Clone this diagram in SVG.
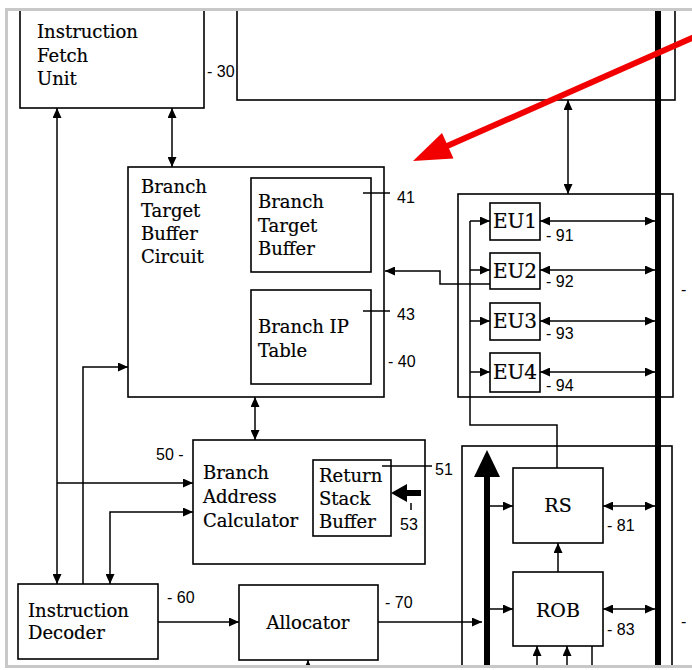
<svg xmlns="http://www.w3.org/2000/svg" width="692" height="670" viewBox="0 0 692 670">
<style>
.box{fill:none;stroke:#000;stroke-width:1.6}
.ln{fill:none;stroke:#000;stroke-width:1.5}
.t{font-family:"DejaVu Serif","Liberation Serif",serif;font-size:18px;fill:#000;stroke:#000;stroke-width:0.2}
.eu{font-family:"DejaVu Serif","Liberation Serif",serif;font-size:20px;fill:#000;stroke:#000;stroke-width:0.2}
.big{font-family:"DejaVu Serif","Liberation Serif",serif;font-size:19px;fill:#000;stroke:#000;stroke-width:0.2}
.n{font-family:"Liberation Sans","DejaVu Sans",sans-serif;font-size:16px;fill:#000}
</style>
<defs>
<marker id="ah" markerUnits="userSpaceOnUse" markerWidth="10" markerHeight="9" refX="10" refY="4.5" orient="auto-start-reverse">
<path d="M0,0 L10,4.5 L0,9 z" fill="#000"/>
</marker>
<clipPath id="frame"><rect x="8" y="11" width="684" height="655"/></clipPath>
</defs>
<rect x="0" y="0" width="692" height="670" fill="#fff"/>
<g clip-path="url(#frame)">
<g id="bus"><line x1="658" y1="0" x2="658" y2="670" stroke="#000" stroke-width="6"/></g>
<g id="ifu">
<rect class="box" x="20" y="-5" width="184" height="113"/>
<text class="t" x="37" y="38">Instruction</text>
<text class="t" x="37" y="62">Fetch</text>
<text class="t" x="37" y="85">Unit</text>
<text class="n" x="207" y="77">- 30</text>
</g>
<g id="topbox"><rect class="box" x="237" y="-5" width="438" height="105"/></g>
<g id="btbc">
<rect class="box" x="128" y="167" width="256" height="230"/>
<text class="t" x="141" y="193">Branch</text>
<text class="t" x="141" y="217">Target</text>
<text class="t" x="141" y="240">Buffer</text>
<text class="t" x="141" y="263">Circuit</text>
<text class="n" x="388" y="367">- 40</text>
</g>
<g id="btb">
<rect class="box" x="251" y="178" width="120" height="94"/>
<text class="t" x="258" y="208">Branch</text>
<text class="t" x="258" y="232">Target</text>
<text class="t" x="258" y="255">Buffer</text>
<line class="ln" x1="363" y1="193" x2="390" y2="193"/>
<text class="n" x="397" y="203">41</text>
</g>
<g id="bip">
<rect class="box" x="251" y="290" width="120" height="94"/>
<text class="t" x="258" y="333">Branch IP</text>
<text class="t" x="258" y="357">Table</text>
<line class="ln" x1="363" y1="311" x2="390" y2="311"/>
<text class="n" x="397" y="320">43</text>
</g>
<g id="eugroup"><rect class="box" x="458" y="194" width="215" height="203"/>
<text class="n" x="681" y="295">-</text></g>
<g id="eu1"><rect class="box" x="490" y="203" width="50" height="37"/><text class="eu" x="515" y="228" text-anchor="middle">EU1</text><text class="n" x="546" y="241">- 91</text></g>
<g id="eu2"><rect class="box" x="490" y="253" width="50" height="36"/><text class="eu" x="515" y="278" text-anchor="middle">EU2</text><text class="n" x="546" y="287">- 92</text></g>
<g id="eu3"><rect class="box" x="490" y="303" width="50" height="37"/><text class="eu" x="515" y="328" text-anchor="middle">EU3</text><text class="n" x="546" y="339">- 93</text></g>
<g id="eu4"><rect class="box" x="490" y="353" width="50" height="39"/><text class="eu" x="515" y="379" text-anchor="middle">EU4</text><text class="n" x="546" y="391">- 94</text></g>
<g id="bac">
<rect class="box" x="193" y="440" width="232" height="124"/>
<text class="t" x="203" y="479">Branch</text>
<text class="t" x="203" y="503">Address</text>
<text class="t" x="203" y="527">Calculator</text>
<text class="n" x="156" y="460">50 -</text>
</g>
<g id="rsb">
<rect class="box" x="313" y="460" width="78" height="76"/>
<text class="t" x="319" y="482">Return</text>
<text class="t" x="319" y="505">Stack</text>
<text class="t" x="319" y="528">Buffer</text>
<line class="ln" x1="382" y1="466" x2="432" y2="466"/>
<text class="n" x="435" y="475">51</text>
<polygon points="391,493 407,484 407,490 421,490 421,496 407,496 407,502" fill="#000"/>
<line class="ln" x1="411" y1="503" x2="411" y2="510"/>
<text class="n" x="400" y="530">53</text>
</g>
<g id="decoder">
<rect class="box" x="18" y="584" width="140" height="75"/>
<text class="t" x="28" y="617">Instruction</text>
<text class="t" x="28" y="639">Decoder</text>
<text class="n" x="167" y="603">- 60</text>
</g>
<g id="allocator">
<rect class="box" x="239" y="585" width="139" height="75"/>
<text class="t" x="308" y="629" text-anchor="middle">Allocator</text>
<text class="n" x="385" y="608">- 70</text>
</g>
<g id="lowergroup"><rect class="box" x="462" y="446" width="210" height="250"/>
<text class="n" x="681" y="627">-</text>
<rect x="484" y="476" width="6" height="200" fill="#000"/>
<polygon points="487,450 500,477 474,477" fill="#000"/>
</g>
<g id="rs"><rect class="box" x="513" y="468" width="90" height="75"/><text class="big" x="558" y="512" text-anchor="middle">RS</text><text class="n" x="607" y="531">- 81</text></g>
<g id="rob"><rect class="box" x="513" y="572" width="90" height="74"/><text class="big" x="558" y="617" text-anchor="middle">ROB</text><text class="n" x="607" y="635">- 83</text></g>
<g id="connectors">
<line class="ln" x1="172" y1="108" x2="172" y2="167" marker-start="url(#ah)" marker-end="url(#ah)"/>
<line class="ln" x1="568" y1="100" x2="568" y2="194" marker-start="url(#ah)" marker-end="url(#ah)"/>
<line class="ln" x1="540" y1="221" x2="655" y2="221" marker-start="url(#ah)" marker-end="url(#ah)"/>
<line class="ln" x1="540" y1="270" x2="655" y2="270" marker-start="url(#ah)" marker-end="url(#ah)"/>
<line class="ln" x1="540" y1="321" x2="655" y2="321" marker-start="url(#ah)" marker-end="url(#ah)"/>
<line class="ln" x1="540" y1="372" x2="655" y2="372" marker-start="url(#ah)" marker-end="url(#ah)"/>
<path class="ln" d="M470,221 L470,425 L557,425 L557,468"/>
<line class="ln" x1="470" y1="221" x2="490" y2="221" marker-end="url(#ah)"/>
<line class="ln" x1="470" y1="270" x2="490" y2="270" marker-end="url(#ah)"/>
<line class="ln" x1="470" y1="321" x2="490" y2="321" marker-end="url(#ah)"/>
<line class="ln" x1="470" y1="372" x2="490" y2="372" marker-end="url(#ah)"/>
<path class="ln" d="M490,284 L440,284 L440,271 L385,271" marker-end="url(#ah)"/>
<line class="ln" x1="255" y1="397" x2="255" y2="440" marker-start="url(#ah)" marker-end="url(#ah)"/>
<line class="ln" x1="57" y1="108" x2="57" y2="584" marker-start="url(#ah)" marker-end="url(#ah)"/>
<line class="ln" x1="57" y1="483" x2="193" y2="483" marker-end="url(#ah)"/>
<path class="ln" d="M83,584 L83,367 L128,367" marker-end="url(#ah)"/>
<path class="ln" d="M110,584 L110,512 L193,512" marker-start="url(#ah)" marker-end="url(#ah)"/>
<line class="ln" x1="158" y1="622" x2="239" y2="622" marker-end="url(#ah)"/>
<line class="ln" x1="378" y1="622" x2="482" y2="622" marker-end="url(#ah)"/>
<line class="ln" x1="308" y1="680" x2="308" y2="660" marker-end="url(#ah)"/>
<line class="ln" x1="490" y1="506" x2="513" y2="506" marker-end="url(#ah)"/>
<line class="ln" x1="490" y1="609" x2="513" y2="609" marker-end="url(#ah)"/>
<line class="ln" x1="603" y1="506" x2="655" y2="506" marker-start="url(#ah)" marker-end="url(#ah)"/>
<line class="ln" x1="603" y1="609" x2="655" y2="609" marker-start="url(#ah)" marker-end="url(#ah)"/>
<line class="ln" x1="558" y1="572" x2="558" y2="543" marker-end="url(#ah)"/>
<line class="ln" x1="537" y1="680" x2="537" y2="646" marker-end="url(#ah)"/>
<line class="ln" x1="567" y1="680" x2="567" y2="646" marker-end="url(#ah)"/>
<line class="ln" x1="592" y1="646" x2="592" y2="680"/>
</g>
<g id="redarrow">
<line x1="700" y1="34.5" x2="446" y2="146.5" stroke="#f20000" stroke-width="6"/>
<polygon points="413,161 442,133 453.5,158.5" fill="#f20000"/>
</g>
</g>
<g id="border" stroke="#c8c8c8" stroke-width="3">
<line x1="5" y1="9.5" x2="692" y2="9.5"/>
<line x1="6.5" y1="8" x2="6.5" y2="668"/>
<line x1="5" y1="666.5" x2="692" y2="666.5"/>
</g>
</svg>
